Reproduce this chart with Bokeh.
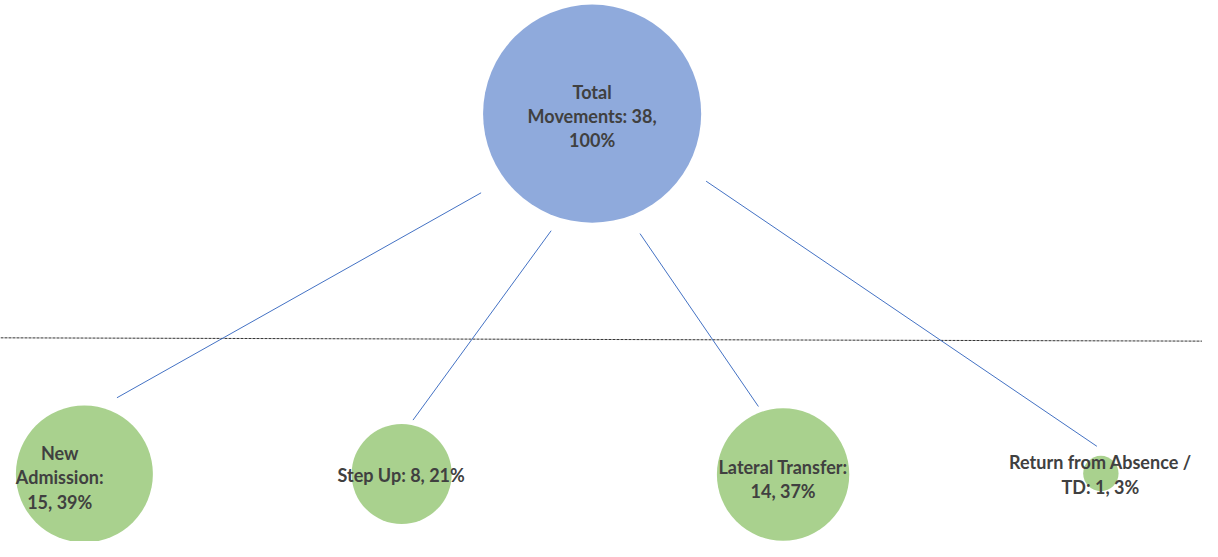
from bokeh.plotting import figure
from bokeh.models import Range1d, ColumnDataSource
from bokeh.core.properties import value
from bokeh.embed import file_html
from bokeh.resources import INLINE
import math

# ---- data ----
categories = ["Total Movements", "New Admission", "Step Up", "Lateral Transfer", "Return from Absence / TD"]
counts = [38, 15, 8, 14, 1]
percents = [100, 39, 21, 37, 3]

# ---- layout (reference-canvas coordinates, 1218 x 557) ----
node_x = [599.5, 85, 406.5, 793, 1115]
node_y = [116.5, 487.5, 487.5, 488, 487]
text_x = [599.5, 60, 406, 793, 1114.5]
text_y = [119, 491, 489, 492.5, 488]
wrap = [
    "Total\n{rest}: {c},\n{p}%",
    "New\n{rest}:\n{c}, {p}%",
    "{cat}: {c}, {p}%",
    "{cat}:\n{c}, {p}%",
    "Return from Absence /\n{rest}: {c}, {p}%",
]
conn_start = [(487, 198), (558, 237), (648, 240), (715, 186)]
conn_end = [(118, 409), (418, 432), (768, 418), (1111, 459)]

scale = 110.5 / math.sqrt(counts[0])
radii = [scale * math.sqrt(c) for c in counts]
colors = ["#8FAADC"] + ["#A9D18E"] * 4

def make_label(i):
    cat = categories[i]
    rest = cat.split(" / ")[-1] if " / " in cat else cat.split(" ")[-1]
    return wrap[i].format(cat=cat, rest=rest, c=counts[i], p=percents[i])

labels = [make_label(i) for i in range(len(categories))]

W, H = 1202, 541
p = figure(width=W, height=H, output_backend="svg", toolbar_location=None,
           x_range=Range1d(0, 1218), y_range=Range1d(557, 0),
           min_border=0, outline_line_color=None)
p.axis.visible = False
p.grid.visible = False
p.background_fill_color = "white"
p.border_fill_color = "white"

# dashed divider
p.line(x=[0, 1218], y=[347.3, 350.7], line_color="#333333", line_width=1, line_dash="3 1")

# connectors
p.segment(x0=[s[0] for s in conn_start], y0=[s[1] for s in conn_start],
          x1=[e[0] for e in conn_end], y1=[e[1] for e in conn_end],
          line_color="#4472C4", line_width=1)

src = ColumnDataSource(dict(x=node_x, y=node_y, r=radii, color=colors))
p.circle(x="x", y="y", radius="r", fill_color="color", line_color=None, source=src)

tsrc = ColumnDataSource(dict(x=text_x, y=text_y, t=labels))
p.text(x="x", y="y", text="t", source=tsrc, text_font=value("Lato"),
       text_font_style="bold", text_font_size="18px", text_color="#404040",
       text_align="center", text_baseline="middle", text_line_height=1.1)

open("out.html", "w").write(file_html(p, INLINE))
